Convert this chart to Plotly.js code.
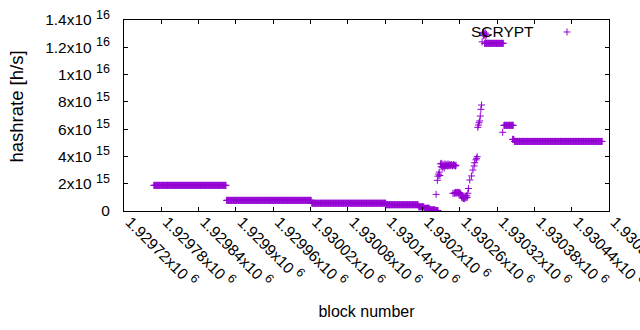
<!DOCTYPE html>
<html>
<head>
<meta charset="utf-8">
<script src="https://cdn.plot.ly/plotly-3.0.1.min.js"></script>
<style>
html,body{margin:0;padding:0;background:#fff;}
#chart{width:640px;height:330px;}
</style>
</head>
<body>
<div id="chart"></div>
<script>
// Flat runs of constant hashrate: first block, last block, value [h/s]
const segStart = [1929768, 1929885, 1930022, 1930142, 1930194, 1930203, 1930212, 1930221, 1930300, 1930331, 1930345, 1930348];
const segEnd   = [1929884, 1930021, 1930141, 1930193, 1930202, 1930211, 1930220, 1930225, 1930330, 1930346, 1930347, 1930489];
const segValue = [1.88e15, 0.78e15, 0.57e15, 0.46e15, 0.31e15, 0.20e15, 0.09e15, 0.03e15, 12.29e15, 6.28e15, 5.25e15, 5.10e15];

// Irregular individual points
const ptBlock = [
  1930222, 1930224, 1930225, 1930226, 1930227, 1930228, 1930229, 1930230, 1930231, 1930232,
  1930233, 1930234, 1930235, 1930236, 1930237, 1930238, 1930239, 1930240, 1930241, 1930242,
  1930243, 1930244, 1930245, 1930246, 1930247, 1930248, 1930249, 1930250, 1930251, 1930252,
  1930253, 1930254,
  1930249, 1930251, 1930252, 1930253, 1930254, 1930255, 1930256, 1930257, 1930258, 1930259,
  1930260, 1930261, 1930262, 1930263, 1930264, 1930265, 1930266, 1930267, 1930268, 1930269,
  1930270, 1930271, 1930272, 1930273, 1930274,
  1930276, 1930279, 1930281, 1930283, 1930284, 1930286, 1930287, 1930288,
  1930289, 1930290, 1930291, 1930292, 1930293, 1930294, 1930295,
  1930296, 1930297, 1930298, 1930299, 1930300, 1930301, 1930302, 1930303,
  1930329
];
const ptValue = [
  1.22e15, 2.25e15, 2.55e15, 2.70e15, 2.85e15, 2.60e15, 3.45e15, 3.25e15, 3.50e15, 3.20e15,
  3.40e15, 3.30e15, 3.15e15, 3.45e15, 3.30e15, 3.40e15, 3.35e15, 3.30e15, 3.45e15, 3.35e15,
  3.30e15, 3.40e15, 3.35e15, 3.35e15, 3.40e15, 3.30e15, 3.35e15, 3.40e15, 3.35e15, 3.35e15,
  3.30e15, 3.35e15,
  1.30e15, 1.28e15, 1.33e15, 1.36e15, 1.30e15, 1.34e15, 1.38e15, 1.32e15, 1.35e15, 1.30e15,
  1.36e15, 1.27e15, 1.22e15, 1.02e15, 0.95e15, 1.05e15, 0.92e15, 1.00e15, 0.90e15, 1.02e15,
  0.96e15, 1.12e15, 1.00e15, 1.30e15, 1.65e15,
  2.27e15, 2.57e15, 3.00e15, 3.30e15, 3.54e15, 3.75e15, 3.86e15, 3.98e15,
  6.13e15, 6.30e15, 6.47e15, 6.60e15, 6.96e15, 7.45e15, 7.77e15,
  12.40e15, 13.10e15, 12.85e15, 13.00e15, 12.90e15, 13.05e15, 12.80e15, 12.95e15,
  5.77e15
];

const xTickVals = [1929720, 1929780, 1929840, 1929900, 1929960, 1930020, 1930080, 1930140, 1930200, 1930260, 1930320, 1930380, 1930440, 1930500];
const xTickText = ['1.92972', '1.92978', '1.92984', '1.9299', '1.92996', '1.93002', '1.93008', '1.93014', '1.9302', '1.93026', '1.93032', '1.93038', '1.93044', '1.9305'];
const yTickVals = [0, 2e15, 4e15, 6e15, 8e15, 1e16, 1.2e16, 1.4e16];
const yTickMant = ['0', '2', '4', '6', '8', '1', '1.2', '1.4'];
const yTickExp  = ['', '15', '15', '15', '15', '16', '16', '16'];
const seriesName = 'SCRYPT';

const xs = [], ys = [];
for (let i = 0; i < segStart.length; i++) {
  for (let b = segStart[i]; b <= segEnd[i]; b++) { xs.push(b); ys.push(segValue[i]); }
}
for (let i = 0; i < ptBlock.length; i++) { xs.push(ptBlock[i]); ys.push(ptValue[i]); }

const col = '#9400d3';
const font = 'Liberation Sans, Arial, sans-serif';
const nb = '\u00a0';
const sup = e => '<sup><span style="font-size:12.5px">' + e + '</span></sup>';

const trace = {
  x: xs, y: ys, type: 'scatter', mode: 'markers', name: seriesName,
  marker: {symbol: 'cross-thin-open', size: 5, color: col, line: {color: col, width: 1}},
  showlegend: false, hoverinfo: 'none'
};

const axisCommon = {
  showgrid: false, zeroline: false, showline: true, linecolor: '#000', linewidth: 1,
  mirror: 'ticks', ticks: 'inside', ticklen: 4, tickcolor: '#000', tickwidth: 1,
  tickfont: {family: font, size: 15.5, color: '#000'}
};

const layout = {
  width: 640, height: 330,
  margin: {l: 124, r: 31, t: 20, b: 119},
  paper_bgcolor: '#fff', plot_bgcolor: '#fff',
  font: {family: font, color: '#000'},
  xaxis: Object.assign({}, axisCommon, {
    range: [xTickVals[0], xTickVals[xTickVals.length - 1]],
    tickmode: 'array', tickvals: xTickVals,
    ticktext: xTickText.map(t => t + 'x10' + nb + sup('6')),
    tickangle: 45, ticklabelshift: 6, ticklabelstandoff: -5, ticklabeloverflow: 'allow',
    title: {text: 'block number', font: {family: font, size: 16, color: '#000'}, standoff: 16}
  }),
  yaxis: Object.assign({}, axisCommon, {
    range: [yTickVals[0], yTickVals[yTickVals.length - 1]],
    tickmode: 'array', tickvals: yTickVals,
    ticktext: yTickMant.map((m, i) => yTickExp[i] ? m + 'x10' + nb + sup(yTickExp[i]) : m),
    ticklabelstandoff: 10, ticklabeloverflow: 'allow'
  }),
  annotations: [{
    xref: 'paper', yref: 'paper', x: 0.8485, y: 0.9372, xanchor: 'right', yanchor: 'middle',
    text: seriesName, showarrow: false, font: {family: font, size: 15.5, color: '#000'}
  }, {
    xref: 'paper', yref: 'paper', x: -0.2206, y: 0.547, xanchor: 'center', yanchor: 'middle',
    textangle: -90, text: 'hashrate [h/s]', showarrow: false, font: {family: font, size: 18.5, color: '#000'}
  }],
  shapes: [
    {type: 'line', xref: 'paper', yref: 'paper', x0: 0.9062, x1: 0.9206, y0: 0.9372, y1: 0.9372, line: {color: col, width: 1}},
    {type: 'line', xref: 'paper', yref: 'paper', x0: 0.9134, x1: 0.9134, y0: 0.9189, y1: 0.9555, line: {color: col, width: 1}}
  ]
};

Plotly.newPlot('chart', [trace], layout, {staticPlot: true, displayModeBar: false});
</script>
</body>
</html>
